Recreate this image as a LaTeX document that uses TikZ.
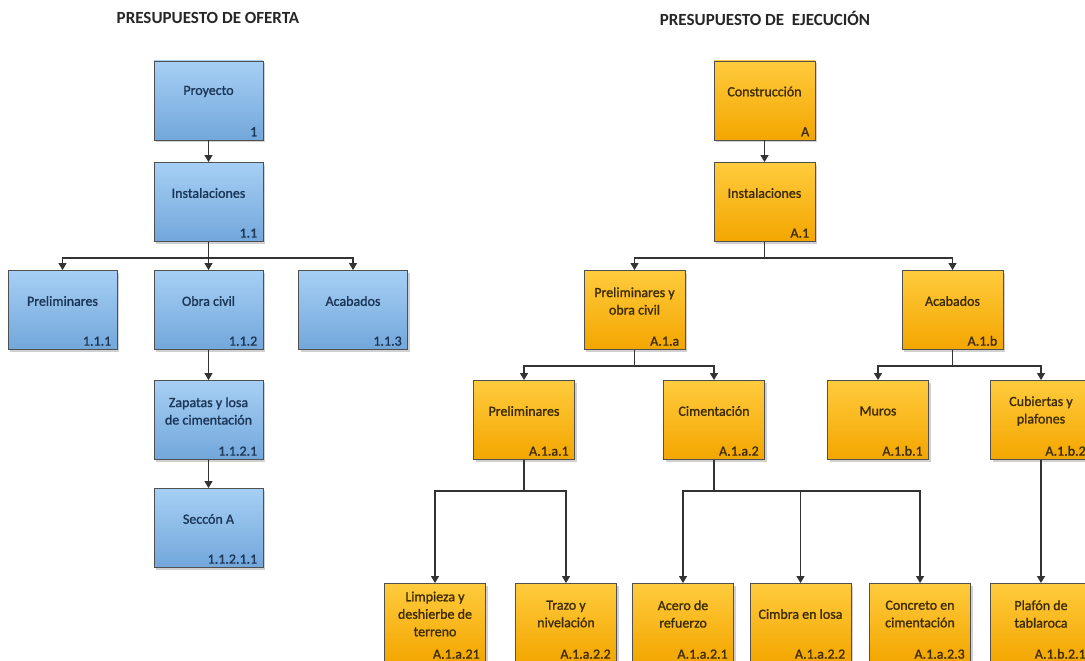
\documentclass[tikz,border=0pt]{standalone}
\usepackage{fontspec}
\setmainfont{Carlito}
\newfontfamily\boxfont{Carlito}[FakeBold=1.2]
\usetikzlibrary{arrows.meta,shadows}
\definecolor{bluetop}{HTML}{A6CFF4}
\definecolor{bluebot}{HTML}{72A7DB}
\definecolor{orgtop}{HTML}{FFCB3D}
\definecolor{orgbot}{HTML}{F3A600}
\definecolor{bluetxt}{HTML}{1B3556}
\definecolor{orgtxt}{HTML}{3D2C00}
\definecolor{edgecol}{HTML}{505050}
\definecolor{wire}{HTML}{333333}
\tikzset{
  boxbase/.style={rectangle, draw=edgecol, line width=0.9pt, minimum height=79pt, inner sep=0pt,
    drop shadow={shadow xshift=2pt, shadow yshift=-2pt, opacity=0.3, fill=black!60}},
  bluebox/.style={boxbase, top color=bluetop, bottom color=bluebot, minimum width=109pt},
  orgbox/.style={boxbase, top color=orgtop, bottom color=orgbot, minimum width=101pt},
  maintext/.style={anchor=center, yshift=9pt, align=center, inner sep=0pt,
    font=\boxfont\fontsize{14}{17.5}\selectfont},
  numtext/.style={anchor=south east, inner xsep=6pt, inner ysep=4pt,
    font=\boxfont\fontsize{14}{17}\selectfont},
  titletext/.style={font=\fontsize{17}{20}\selectfont\bfseries, text=black!85, inner sep=0pt},
  conn/.style={draw=wire, line width=1.2pt, -{Triangle[length=7pt,width=8pt]}},
}
\newcommand{\bluenode}[5]{\node[bluebox,
  label={[maintext, text=bluetxt]center:#4},
  label={[numtext, text=bluetxt]south east:#5}] (#1) at (#2,#3) {};}
\newcommand{\orgnode}[5]{\node[orgbox,
  label={[maintext, text=orgtxt]center:#4},
  label={[numtext, text=orgtxt]south east:#5}] (#1) at (#2,#3) {};}
\begin{document}
\begin{tikzpicture}[x=1pt,y=-1pt]
\useasboundingbox (0,0) rectangle (1085,661);
\fill[white] (0,0) rectangle (1085,661);
% titles
\node[titletext] (t1) at (208,18) {PRESUPUESTO DE OFERTA};
\node[titletext] (t2) at (765,18) {PRESUPUESTO DE\ \ EJECUCIÓN};
% left tree
\bluenode{proy}{208.5}{100.5}{Proyecto}{1}
\bluenode{inst1}{208.5}{202}{Instalaciones}{1.1}
\bluenode{prel1}{62.5}{310}{Preliminares}{1.1.1}
\bluenode{obra}{208.5}{310}{Obra civil}{1.1.2}
\bluenode{acab1}{353}{310}{Acabados}{1.1.3}
\bluenode{zap}{208.5}{420}{Zapatas y losa\\de cimentación}{1.1.2.1}
\bluenode{secc}{208.5}{528}{Seccón A}{1.1.2.1.1}
% right tree
\orgnode{cons}{764.5}{100.5}{Construcción}{A}
\orgnode{inst2}{764.5}{202}{Instalaciones}{A.1}
\orgnode{pyo}{634.5}{310}{Preliminares y\\obra civil}{A.1.a}
\orgnode{acab2}{952.5}{310}{Acabados}{A.1.b}
\orgnode{prel2}{524}{420}{Preliminares}{A.1.a.1}
\orgnode{cim}{714}{420}{Cimentación}{A.1.a.2}
\orgnode{muros}{878}{420}{Muros}{A.1.b.1}
\orgnode{cub}{1041}{420}{Cubiertas y\\plafones}{A.1.b.2}
\orgnode{limp}{435}{623}{Limpieza y\\deshierbe de\\terreno}{A.1.a.21}
\orgnode{trazo}{566}{623}{Trazo y\\nivelación}{A.1.a.2.2}
\orgnode{acero}{683}{623}{Acero de\\refuerzo}{A.1.a.2.1}
\orgnode{cimbra}{800.5}{623}{Cimbra en losa}{A.1.a.2.2}
\orgnode{concr}{920}{623}{Concreto en\\cimentación}{A.1.a.2.3}
\orgnode{plaf}{1041}{623}{Plafón de\\tablaroca}{A.1.b.2.1}
% connectors left
\draw[conn] (proy.south) -- (inst1.north);
\draw[conn] (inst1.south) -- ++(0,16) -| (prel1.north);
\draw[conn] (inst1.south) -- ++(0,16) -| (acab1.north);
\draw[conn] (inst1.south) -- (obra.north);
\draw[conn] (obra.south) -- (zap.north);
\draw[conn] (zap.south) -- (secc.north);
% connectors right
\draw[conn] (cons.south) -- (inst2.north);
\draw[conn] (inst2.south) -- ++(0,16) -| (pyo.north);
\draw[conn] (inst2.south) -- ++(0,16) -| (acab2.north);
\draw[conn] (pyo.south) -- ++(0,16) -| (prel2.north);
\draw[conn] (pyo.south) -- ++(0,16) -| (cim.north);
\draw[conn] (acab2.south) -- ++(0,16) -| (muros.north);
\draw[conn] (acab2.south) -- ++(0,16) -| (cub.north);
\draw[conn] (prel2.south) -- ++(0,31) -| (limp.north);
\draw[conn] (prel2.south) -- ++(0,31) -| (trazo.north);
\draw[conn] (cim.south) -- ++(0,31) -| (acero.north);
\draw[conn] (cim.south) -- ++(0,31) -| (cimbra.north);
\draw[conn] (cim.south) -- ++(0,31) -| (concr.north);
\draw[conn] (cub.south) -- (plaf.north);
\end{tikzpicture}
\end{document}
